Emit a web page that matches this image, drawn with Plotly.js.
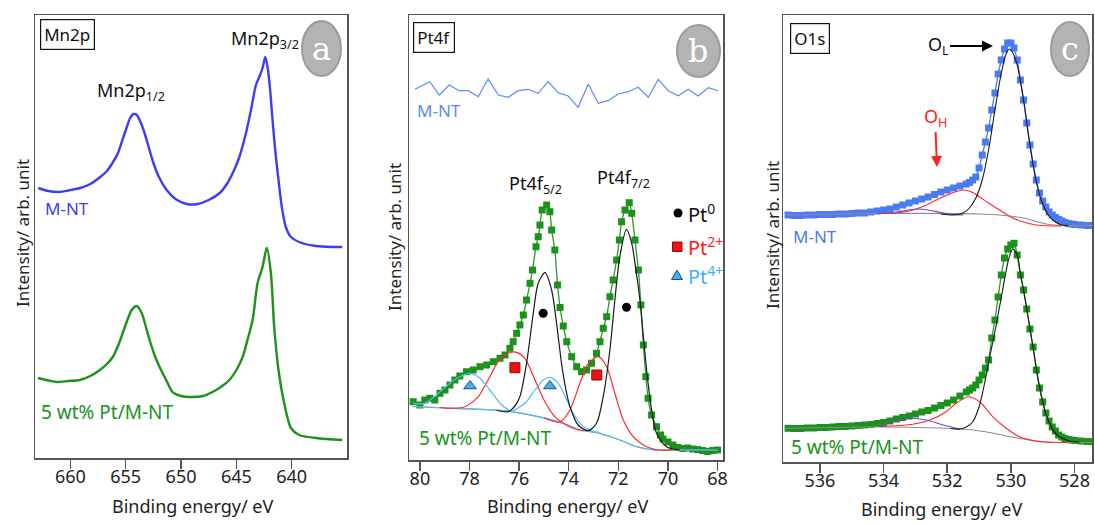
<!DOCTYPE html>
<html><head><meta charset="utf-8">
<script src="https://cdn.plot.ly/plotly-3.0.1.min.js"></script>
<style>html,body{margin:0;padding:0;background:#fff}#plot{width:1095px;height:525px}</style>
</head><body><div id="plot"></div>
<script>
// ---------- Panel a : Mn2p ----------
const mnE_MNT = [662.9,662.0,661.0,660.0,659.1,658.2,657.3,656.7,656.2,655.7,655.3,654.9,654.6,654.3,654.0,653.7,653.3,652.9,652.5,652.0,651.3,650.5,649.5,648.5,647.5,646.5,645.8,645.2,644.73,644.13,643.68,643.23,642.93,642.63,642.39,642.18,641.97,641.73,641.49,641.19,640.89,640.53,640.07,639.33,637.82,636.33,635.43];
const mnI_MNT = [270,267,266,268,270,274,281,287,295,305,318,331,340,344,343,337,325,310,295,281,268,259,254,254,258,265,275,288,301,325,348,373,381,390,401,391,371,338,308,278,251,231,221,216,212,211,211];
const mnE_Pt = [662.93,661.8,661.22,660.2,659.15,658.2,657.34,656.7,656.17,655.7,655.27,654.85,654.46,654.01,653.56,653.2,652.84,652.4,651.94,651.3,650.77,650.0,648.96,648.0,647.16,646.4,645.63,645.0,644.43,644.0,643.53,643.08,642.63,642.25,641.88,641.58,641.19,640.68,640.07,639.33,637.82,635.43];
const mnI_Pt = [80,77,76,77,78,82,88,94,101,112,125,138,148,152,145,132,118,103,91,77,66,62,61,62,66,71,78,88,101,118,138,175,191,210,185,131,88,55,30,23,20,18];
const mnTicks = [660,655,650,645,640];

// ---------- Panel b : Pt4f ----------
const ptE_MNT = [80.20,79.60,79.22,78.82,78.42,78.05,77.65,77.25,76.84,76.44,76.04,75.63,75.23,74.83,74.42,74.02,73.62,73.21,72.81,72.41,72.00,71.60,71.20,70.79,70.39,69.99,69.58,69.18,68.78,68.37,67.97];
const ptI_MNT = [370.7,378.3,365,375,369.3,369.3,363.3,381,365,362.7,369.3,370.7,366.7,378.3,367.3,364,352.7,376,356.7,359.3,366,368.3,372.7,362.7,380.7,369.3,364.3,370.7,364,372.3,369.3];
const ptE_Pt = [80.27,80.0,79.8,79.6,79.4,79.19,78.99,78.79,78.59,78.39,78.12,77.85,77.58,77.31,77.04,76.77,76.57,76.37,76.24,76.1,75.97,75.83,75.7,75.56,75.46,75.32,75.23,75.16,75.07,74.89,74.76,74.69,74.56,74.45,74.35,74.22,74.08,73.88,73.68,73.48,73.28,73.08,72.88,72.74,72.61,72.47,72.34,72.21,72.07,71.96,71.87,71.73,71.56,71.46,71.33,71.19,71.09,70.99,70.89,70.8,70.66,70.46,70.3,70.2,70.0,69.8,69.6,69.4,69.2,69.0,68.8,68.6,68.4,68.2,68.0];
const ptI_Pt = [58.3,55,60,61.7,60,66.7,70,75,80,84,88.3,90,93.3,95,98.3,101.7,105,111.7,118.3,126.7,135,145,160,176.7,190,213.3,223.3,235,250,255,248.3,230,210,175,152.5,134,118.3,103.3,93.3,88.3,90,96.7,106.7,118.3,131.7,143.3,163.3,180,200,220,238.3,250,257.3,246.7,220,190,155,115,83.3,61.7,45,33.3,25,21,18,15,12.5,11.5,12,11,10.5,9.5,8.5,9.5,10];
const ptBgE = [80.3,78.59,76.57,75.23,74.15,73.55,72.74,71.94,71.26,70.59,69.5,68.0];
const ptBgI = [53.5,51.7,49.3,43.3,36,30,26.7,20,13.3,10,10,10];
const pt0E = [76.9,76.44,76.2,75.97,75.7,75.43,75.23,74.96,74.69,74.49,74.29,74.11,73.95,73.62,73.21,72.88,72.61,72.34,72.14,71.94,71.67,71.46,71.29,71.13,70.99,70.83,70.66,70.46,70.06,69.52];
const pt0I = [49.5,48.3,53,63.3,96.7,146.7,176.7,187.3,170,136.7,96.7,70,53.3,35,29.3,36.7,63.3,110,160,203.3,230.7,216.7,190,160,123.3,83.3,50,26.7,13.3,10];
const pt2aE = [79.2,78.86,78.19,77.65,77.25,76.84,76.44,76.1,75.77,75.36,74.96,74.56,74.22,73.82,73.4];
const pt2aI = [52.5,51.7,53.3,63.3,80,98.3,106.7,107.7,101.7,80,58.3,43.3,36.7,31.7,29];
const pt2bE = [75.0,74.35,73.95,73.55,73.21,72.81,72.47,72.14,71.8,71.4,70.86,70.32,69.8];
const pt2bI = [42,38,50,76.7,96.7,103.3,93.3,66.7,40,23.3,13.3,10,10];
const pt4aE = [80.27,79.8,79.26,78.72,78.25,77.98,77.65,77.18,76.71,76.3];
const pt4aI = [56.7,56.7,66.7,78.3,85,86.7,83.3,70,55,48.3];
const pt4bE = [76.3,75.77,75.36,75.03,74.76,74.42,74.08,73.82,73.55,73.21,72.8];
const pt4bI = [48.3,56.7,70,80,82.7,76.7,60,46.7,36.7,30.7,27.5];
const mk0E = [75.03,71.67], mk0I = [146.7,152.7];
const mk2E = [76.17,72.87], mk2I = [92.3,85];
const mk4E = [77.98,74.76], mk4I = [74,74];
const ptTicks = [80,78,76,74,72,70,68];

// ---------- Panel c : O1s ----------
const oE = [537.0,536.8,536.6,536.4,536.2,536.0,535.8,535.6,535.4,535.2,535.0,534.8,534.6,534.4,534.2,534.0,533.8,533.6,533.4,533.2,533.0,532.8,532.6,532.4,532.2,532.0,531.8,531.6,531.4,531.3,531.2,531.1,531.0,530.9,530.8,530.7,530.6,530.5,530.4,530.3,530.2,530.1,530.0,529.9,529.8,529.7,529.6,529.5,529.4,529.3,529.2,529.1,529.0,528.9,528.8,528.7,528.6,528.5,528.4,528.3,528.2,528.1,528.0,527.8,527.6,527.45];
const oI_MNT = [247,246.5,246.5,247,247,247.5,247.5,247.5,248,248,248.5,249,249,250,251,252,253,255,257,259,261,263,265,267.5,270,272,274,276,278,279.5,282,285,294,307,320,334,352,369,388,402,413,419,419,414,402,382,362,339,317,298,282,269,261,255,250,247,244.5,242.5,241,239.5,238.5,238,237.5,237,236.5,236.5];
const oI_Pt = [33.7,33.5,33.5,34,34,34.5,34.5,35,35.5,35.5,36,36.5,37,37.5,38.5,39.5,41,43,44.5,46,48,50,51.5,54,56.5,59,62,66,70,72,74,77,82,87,94,102,124,142,165,187,204,213,217,218.7,207,187,172,153,133,115,92,74,60,49,41,35,31,27,25,23.5,22.5,22,21.5,21,20.5,20.3];
const oBgME = [537.1,534.0,531.0,530.2,529.6,529.2,528.8,528.4,527.45];
const oBgMI = [247,248.5,248,246.5,244,240.5,237.5,236.5,236.5];
const oLME = [532.2,531.8,531.5,531.3,531.1,530.9,530.7,530.5,530.3,530.15,530.05,529.95,529.8,529.6,529.4,529.2,529.0,528.8,528.6,528.4,528.2];
const oLMI = [248,247,249,254,264,282,312,352,389,408,413,410,397,362,317,280,258,246,240,237,236.5];
const oHME = [534.0,533.6,533.2,532.8,532.4,532.0,531.7,531.45,531.2,531.0,530.7,530.4,530.0,529.6,529.2,528.8,528.4];
const oHMI = [248.5,249,251,255,261,267,270.5,272,269.5,265.5,259,253,245,240,237,236,236];
const oPME = [534.2,533.6,533.2,532.9,532.6,532.2,531.8,531.5];
const oPMI = [248.5,250,252,253,252,249.5,247.5,247];
const oBgPE = [537.1,534.0,531.6,530.8,530.0,529.1,528.5,527.45];
const oBgPI = [33.7,35,33,30.3,25.3,20.3,19.5,19.5];
const oLPE = [531.9,531.6,531.4,531.2,531.0,530.85,530.67,530.46,530.27,530.06,529.94,529.8,529.7,529.52,529.31,529.1,528.89,528.58,528.16,527.85];
const oLPI = [33.5,33,35,40,55,75,104,137,170,204,213,207,189,157,116,76,47,28,21,19.7];
const oHPE = [534.12,533.08,532.55,532.03,531.72,531.35,530.98,530.57,530.15,529.73,529.21,528.7,528.2];
const oHPI = [35.3,37.7,42,50.3,58.7,65.3,60.3,45.3,33.7,25.3,21,19.7,19.5];
const oPPE = [534.12,533.7,533.23,532.66,532.13,531.6];
const oPPI = [35.3,40.3,43.7,42,37,33];
const oTicks = [536,534,532,530,528];

// ---------- drawing ----------
const W = 1095, H = 525;
const px = x => x / W, py = y => 1 - y / H;
const FONT = 'Noto Sans, DejaVu Sans, sans-serif';
const BLUE_A = '#3d3df5', GREEN = '#1c921c', BLUE_B = '#5b8cf7', BLUE_C = '#4a7bf2';
const RED = '#ff2a2a', LBLUE = '#55b9f2', PURPLE = '#7b3fc8', GRAY = '#8d8b95', BLACK = '#1a1a1a';

function ln(x, y, color, w, ax, shape) {
  return {x, y, type: 'scatter', mode: 'lines', xaxis: ax[0], yaxis: ax[1],
    line: {color, width: w, shape: shape || 'spline', smoothing: 0.8}, hoverinfo: 'skip', showlegend: false};
}
function dots(x, y, color, ax, lineColor) {
  return {x, y, type: 'scatter', mode: 'lines+markers', xaxis: ax[0], yaxis: ax[1],
    line: {color: lineColor || color, width: 1.3, shape: 'spline', smoothing: 0.6},
    marker: {symbol: 'square', size: 7, color: color, line: {width: 0}},
    hoverinfo: 'skip', showlegend: false};
}
function mk(x, y, symbol, color, size, border, ax) {
  return {x, y, type: 'scatter', mode: 'markers', xaxis: ax[0], yaxis: ax[1],
    marker: {symbol, size, color, line: {color: border, width: border ? 1 : 0}},
    hoverinfo: 'skip', showlegend: false};
}
const A = ['x', 'y'], B = ['x2', 'y2'], C = ['x3', 'y3'];

const traces = [
  ln(mnE_MNT, mnI_MNT, BLUE_A, 2.4, A),
  ln(mnE_Pt, mnI_Pt, GREEN, 2.4, A),

  ln(ptE_MNT, ptI_MNT, BLUE_B, 1.2, B, 'linear'),
  dots(ptE_Pt, ptI_Pt, GREEN, B, '#2a9a2a'),
  ln(ptBgE, ptBgI, '#9a9a9a', 1.2, B),
  ln(ptBgE, ptBgI, LBLUE, 1.2, B),
  ln(pt2aE, pt2aI, RED, 1.2, B),
  ln(pt2bE, pt2bI, RED, 1.2, B),
  ln(pt4aE, pt4aI, LBLUE, 1.2, B),
  ln(pt4bE, pt4bI, LBLUE, 1.2, B),
  ln(pt0E, pt0I, BLACK, 1.2, B),
  mk(mk0E, mk0I, 'circle', '#000', 9, null, B),
  mk(mk2E, mk2I, 'square', '#ee1111', 10, '#881111', B),
  mk(mk4E, mk4I, 'triangle-up', '#44aef0', 11, '#1d4f7a', B),

  dots(oE, oI_MNT, BLUE_C, C),
  ln(oBgME, oBgMI, GRAY, 1.1, C),
  ln(oHME, oHMI, RED, 1.1, C),
  ln(oPME, oPMI, PURPLE, 1.1, C),
  ln(oLME, oLMI, BLACK, 1.1, C),
  dots(oE, oI_Pt, GREEN, C, '#2a9a2a'),
  ln(oBgPE, oBgPI, GRAY, 1.1, C),
  ln(oHPE, oHPI, RED, 1.1, C),
  ln(oPPE, oPPI, PURPLE, 1.1, C),
  ln(oLPE, oLPI, BLACK, 1.1, C),
];

const xcommon = {showline: true, mirror: true, linecolor: '#555', linewidth: 1.5, ticks: 'outside', ticklen: 9,
  tickwidth: 1.5, tickcolor: '#555', showgrid: false, zeroline: false, ticklabelstandoff: -7,
  tickfont: {family: FONT, size: 18, color: '#222'}};
const ycommon = {showline: true, mirror: true, linecolor: '#555', linewidth: 1.5, ticks: '', showticklabels: false,
  showgrid: false, zeroline: false};

function T(x, y, text, size, color, extra) {
  return Object.assign({xref: 'paper', yref: 'paper', x: px(x), y: py(y), text, showarrow: false,
    xanchor: 'center', yanchor: 'middle', font: {family: FONT, size, color}}, extra || {});
}
const boxed = {bordercolor: '#111', borderwidth: 1.2, borderpad: 3, bgcolor: '#fff'};
const serif = s => ({font: {family: 'DejaVu Serif, Liberation Serif, serif', size: s, color: '#fff'}});

const annotations = [
  T(67, 35, 'Mn2p', 17, '#111', boxed),
  T(434, 37, 'Pt4f', 17, '#111', boxed),
  T(810, 38, 'O1s', 17, '#111', boxed),
  T(265, 40, 'Mn2p<sub>3/2</sub>', 18, '#111'),
  T(131, 91, 'Mn2p<sub>1/2</sub>', 18, '#111'),
  T(67, 208, 'M-NT', 17, BLUE_A),
  T(107, 412, '5 wt% Pt/M-NT', 19, GREEN),
  T(439, 110, 'M-NT', 17, BLUE_B),
  T(535, 184, 'Pt4f<sub>5/2</sub>', 18, '#111'),
  T(623, 178, 'Pt4f<sub>7/2</sub>', 18, '#111'),
  T(686, 213, 'Pt<sup>0</sup>', 20, '#111', {xanchor: 'left'}),
  T(686, 246, 'Pt<sup>2+</sup>', 20, '#ff1a1a', {xanchor: 'left'}),
  T(686, 275, 'Pt<sup>4+</sup>', 20, '#3fb2f5', {xanchor: 'left'}),
  T(485, 438, '5 wt% Pt/M-NT', 19, GREEN),
  T(815, 236, 'M-NT', 17, BLUE_C),
  T(857, 447, '5 wt% Pt/M-NT', 19, GREEN),
  {xref: 'paper', yref: 'paper', x: px(993), y: py(46), ax: -55, ay: 0, text: 'O<sub>L</sub>', showarrow: true,
    arrowhead: 2, arrowsize: 1.1, arrowwidth: 2, arrowcolor: '#000', font: {family: FONT, size: 18, color: '#111'}},
  {xref: 'paper', yref: 'paper', x: px(937), y: py(167), ax: -2, ay: -50, text: 'O<sub>H</sub>', showarrow: true,
    arrowhead: 2, arrowsize: 1.1, arrowwidth: 2, arrowcolor: '#ff2020', standoff: 0, font: {family: FONT, size: 18, color: '#ff2020'}},
  T(193, 506, 'Binding energy/ eV', 18, '#222'),
  T(568, 506, 'Binding energy/ eV', 18, '#222'),
  T(942, 509, 'Binding energy/ eV', 18, '#222'),
  T(22, 233, 'Intensity/ arb. unit', 17, '#222', {textangle: -90}),
  T(395, 237, 'Intensity/ arb. unit', 17, '#222', {textangle: -90}),
  T(773, 235, 'Intensity/ arb. unit', 17, '#222', {textangle: -90}),
  T(321, 49, 'a', 32, '#fff', serif(32)),
  T(698, 51, 'b', 32, '#fff', serif(32)),
  T(1070, 49, 'c', 32, '#fff', serif(32)),
];

function ell(x0, y0, x1, y1) {
  return {type: 'circle', xref: 'paper', yref: 'paper', x0: px(x0), x1: px(x1), y0: py(y1), y1: py(y0),
    fillcolor: '#b3b3b3', line: {color: '#9c9c9c', width: 2}, layer: 'above'};
}
const shapes = [
  ell(302, 21, 341, 76),
  ell(677, 25, 720, 77),
  ell(1051, 22, 1089, 76),
  {type: 'circle', xref: 'paper', yref: 'paper', x0: px(673.5), x1: px(682.5), y0: py(217.5), y1: py(208.5),
    fillcolor: '#000', line: {width: 0}},
  {type: 'rect', xref: 'paper', yref: 'paper', x0: px(672.5), x1: px(682), y0: py(251.5), y1: py(242),
    fillcolor: '#ee1111', line: {color: '#881111', width: 1}},
  {type: 'path', xref: 'paper', yref: 'paper',
    path: `M ${px(671.5)} ${py(279.5)} L ${px(682.5)} ${py(279.5)} L ${px(677)} ${py(270)} Z`,
    fillcolor: '#44aef0', line: {color: '#1d4f7a', width: 1}},
];

const layout = {
  width: W, height: H, margin: {l: 0, r: 0, t: 0, b: 0}, paper_bgcolor: '#fff', plot_bgcolor: '#fff',
  showlegend: false, font: {family: FONT},
  xaxis: Object.assign({}, xcommon, {domain: [px(35), px(347)], range: [663.2, 635.0], tickvals: mnTicks, anchor: 'y'}),
  yaxis: Object.assign({}, ycommon, {domain: [py(458), py(15)], range: [0, 443], anchor: 'x'}),
  xaxis2: Object.assign({}, xcommon, {domain: [px(409), px(723)], range: [80.44, 67.78], tickvals: ptTicks, anchor: 'y2'}),
  yaxis2: Object.assign({}, ycommon, {domain: [py(460), py(15)], range: [0, 445], anchor: 'x2'}),
  xaxis3: Object.assign({}, xcommon, {domain: [px(783), px(1092)], range: [537.16, 527.45], tickvals: oTicks, anchor: 'y3'}),
  yaxis3: Object.assign({}, ycommon, {domain: [py(462), py(15)], range: [0, 447], anchor: 'x3'}),
  annotations, shapes
};
Plotly.newPlot('plot', traces, layout, {staticPlot: true, displayModeBar: false});
</script></body></html>
